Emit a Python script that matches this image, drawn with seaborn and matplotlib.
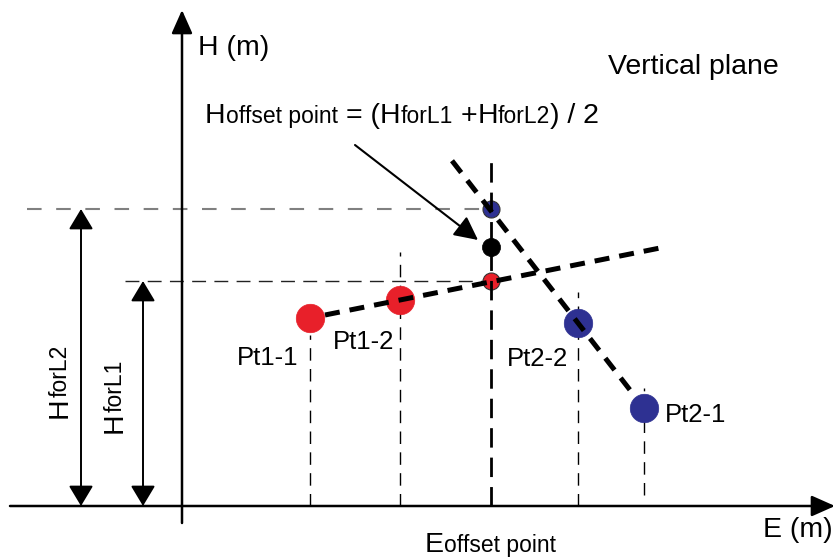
import numpy as np
import pandas as pd
import matplotlib
matplotlib.use('Agg')
import matplotlib.pyplot as plt
import seaborn as sns

# Coordenadas del esquema (E, H) en unidades del dibujo, origen en el cruce de ejes
pt1_names = ['Pt1-1', 'Pt1-2']
pt1_e = [128, 218]
pt1_h = [188, 206]

pt2_names = ['Pt2-1', 'Pt2-2']
pt2_e = [462, 396]
pt2_h = [98, 183]

e_offset = 309
h_for_l1 = 225
h_for_l2 = 297
h_offset = 259

sns.set_theme(style='white')
plt.rcParams['font.family'] = ['Liberation Sans', 'DejaVu Sans']
plt.rcParams['text.color'] = 'black'

fig = plt.figure(figsize=(8.33, 5.57), dpi=100)
ax = fig.add_axes([0, 0, 1, 1])
ax.set_xlim(-182, 651)
ax.set_ylim(-51, 506)
ax.axis('off')

RED = '#e8202a'
BLUE = '#2e3192'
BIG = 20.5
SMALL = 16.5


def rich_text(x, y, parts, rotation=0):
    # parts: (texto, tamaño) o un número = hueco en píxeles
    renderer = fig.canvas.get_renderer()
    px, py = ax.transData.transform((x, y))
    for p in parts:
        if not isinstance(p, tuple):
            if rotation:
                py += p
            else:
                px += p
            continue
        s, size = p
        pos = ax.transData.inverted().transform((px, py))
        t = ax.text(pos[0], pos[1], s, fontsize=size, rotation=rotation,
                    ha='left', va='baseline', rotation_mode='anchor', color='black')
        bb = t.get_window_extent(renderer)
        if rotation:
            py += bb.height
        else:
            px += bb.width


# Ejes con flechas
ax.annotate('', xy=(0, 496), xytext=(0, -17), annotation_clip=False,
            arrowprops=dict(arrowstyle='-|>,head_length=0.9,head_width=0.4', color='black',
                            lw=1.8, mutation_scale=16, shrinkA=0, shrinkB=0))
ax.annotate('', xy=(653, 0), xytext=(-172, 0), annotation_clip=False,
            arrowprops=dict(arrowstyle='-|>,head_length=0.9,head_width=0.4', color='black',
                            lw=1.8, mutation_scale=16, shrinkA=0, shrinkB=0))

# Líneas horizontales de referencia
ax.plot([-155, e_offset], [h_for_l2, h_for_l2], color='#808080', lw=1.5,
        linestyle=(0, (7, 7)), zorder=1)
ax.plot([-57, e_offset], [h_for_l1, h_for_l1], color='#222222', lw=1.0,
        linestyle=(0, (10, 6)), zorder=1)

# Líneas verticales hacia el eje E
ax.plot([pt1_e[0], pt1_e[0]], [0, 171], color='black', lw=1.0, linestyle=(0, (9, 6)), zorder=1)
ax.plot([pt1_e[1], pt1_e[1]], [0, 254], color='black', lw=1.0, linestyle=(0, (9, 6)), zorder=1)
ax.plot([pt2_e[1], pt2_e[1]], [0, 214], color='black', lw=1.0, linestyle=(0, (9, 6)), zorder=1)
ax.plot([pt2_e[0], pt2_e[0]], [11, 118], color='black', lw=1.0, linestyle=(0, (9, 6)), zorder=1)
ax.plot([e_offset, e_offset], [0, 346], color='black', lw=2.0, linestyle=(0, (7, 3.6)), zorder=3)

# Flechas dobles HforL1 / HforL2
for e, h in [(-101, h_for_l2), (-39, h_for_l1)]:
    ax.annotate('', xy=(e, h), xytext=(e, 0), annotation_clip=False,
                arrowprops=dict(arrowstyle='<|-|>,head_length=0.7,head_width=0.42', color='black',
                                lw=1.4, mutation_scale=18, shrinkA=0, shrinkB=0))

# Rectas ajustadas a cada par de puntos
k1 = np.polyfit(pt1_e, pt1_h, 1)
k2 = np.polyfit(pt2_e, pt2_h, 1)
fit1 = pd.DataFrame({'E': [143, 486]})
fit1['H'] = np.polyval(k1, fit1['E'])
fit2 = pd.DataFrame({'E': [270, 450]})
fit2['H'] = np.polyval(k2, fit2['E'])
ax.plot(fit1['E'], fit1['H'], color='black', lw=3.6, linestyle=(0, (3, 2)), zorder=4)
ax.plot(fit2['E'], fit2['H'], color='black', lw=3.6, linestyle=(0, (3, 2)), zorder=4)

# Puntos
sns.scatterplot(x=pt1_e, y=pt1_h, color=RED, s=420, edgecolor=RED, linewidth=0.5, ax=ax, zorder=2)
sns.scatterplot(x=pt2_e, y=pt2_h, color=BLUE, s=420, edgecolor=BLUE, linewidth=0.5, ax=ax, zorder=2)
sns.scatterplot(x=[e_offset], y=[h_for_l1], color=RED, s=150, edgecolor='#333333', linewidth=0.8, ax=ax, zorder=2)
sns.scatterplot(x=[e_offset], y=[h_for_l2], color=BLUE, s=150, edgecolor='#333333', linewidth=0.8, ax=ax, zorder=2)
sns.scatterplot(x=[e_offset], y=[h_offset], color='black', s=170, edgecolor='black', linewidth=0.5, ax=ax, zorder=2)

# Flecha hacia el punto de desplazamiento
ax.annotate('', xy=(296, 266), xytext=(173, 361),
            arrowprops=dict(arrowstyle='-|>,head_length=0.8,head_width=0.4', color='black',
                            lw=1.5, mutation_scale=18, shrinkA=0, shrinkB=0))

# Textos
ax.text(16, 451, 'H (m)', fontsize=BIG, ha='left', va='baseline', color='black')
ax.text(426, 432, 'Vertical plane', fontsize=BIG, ha='left', va='baseline', color='black')
ax.text(581, -31, 'E (m)', fontsize=BIG, ha='left', va='baseline', color='black')
rich_text(243, -46, [('E', BIG), ('offset point', SMALL)])
rich_text(23, 383, [('H', BIG), ('offset point', SMALL), 8, ('= (', BIG), ('H', BIG),
                    ('forL1', SMALL), 8, ('+', BIG), ('H', BIG), ('forL2', SMALL), (') / 2', BIG)])

label_pos = {'Pt1-1': (55, 141), 'Pt1-2': (151, 157), 'Pt2-2': (325, 140), 'Pt2-1': (483, 84)}
for name, (e, h) in label_pos.items():
    ax.text(e, h, name, fontsize=18.5, ha='left', va='baseline', color='black')

rich_text(-115, 88, [('H', BIG), ('forL2', SMALL)], rotation=90)
rich_text(-60, 73, [('H', BIG), ('forL1', SMALL)], rotation=90)

fig.savefig('out.png', dpi=100)
